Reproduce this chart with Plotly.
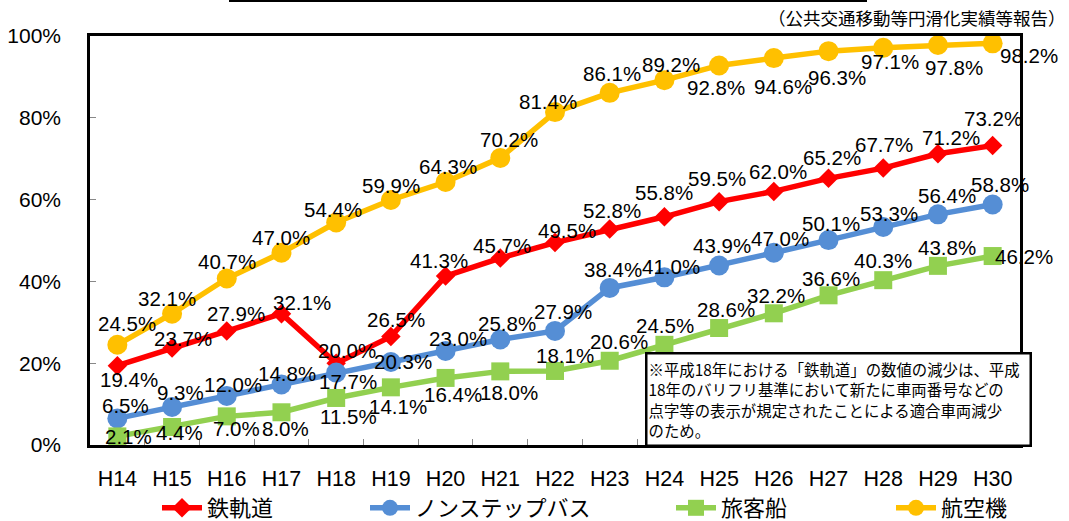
import plotly.graph_objects as go

# 年度（平成）
years = ["H14", "H15", "H16", "H17", "H18", "H19", "H20", "H21", "H22",
         "H23", "H24", "H25", "H26", "H27", "H28", "H29", "H30"]

# 移動等円滑化の達成割合（%）
rail = [19.4, 23.7, 27.9, 32.1, 20.0, 26.5, 41.3, 45.7, 49.5, 52.8, 55.8,
        59.5, 62.0, 65.2, 67.7, 71.2, 73.2]
bus = [6.5, 9.3, 12.0, 14.8, 17.7, 20.3, 23.0, 25.8, 27.9, 38.4, 41.0,
       43.9, 47.0, 50.1, 53.3, 56.4, 58.8]
ship = [2.1, 4.4, 7.0, 8.0, 11.5, 14.1, 16.4, 18.0, 18.1, 20.6, 24.5,
        28.6, 32.2, 36.6, 40.3, 43.8, 46.2]
air = [24.5, 32.1, 40.7, 47.0, 54.4, 59.9, 64.3, 70.2, 81.4, 86.1, 89.2,
       92.8, 94.6, 96.3, 97.1, 97.8, 98.2]

series_names = ["鉄軌道", "ノンステップバス", "旅客船", "航空機"]

note_lines = [
    "※平成18年における「鉄軌道」の数値の減少は、平成",
    "18年のバリフリ基準において新たに車両番号などの",
    "点字等の表示が規定されたことによる適合車両減少",
    "のため。",
]
source_text = "（公共交通移動等円滑化実績等報告）"

# データラベルの位置調整（ピクセル単位: 右, 下）
rail_off = [(12, 14), (11, -10), (9, -17), (21, -11), (11, -13), (5, -17),
            (-7, -16), (2, -13), (12, -12), (2, -19), (0, -24), (-2, -23),
            (4, -20), (3, -21), (1, -24), (13, -16), (0, -27)]
bus_off = [(8, -13), (8, -14), (6, -11), (6, -11), (12, 9), (12, 0),
           (12, -12), (7, -16), (8, -19), (3, -18), (7, -11), (3, -20),
           (6, -14), (2, -17), (6, -14), (9, -19), (7, -20)]
ship_off = [(11, 0), (7, 5), (10, 12), (4, 16), (12, 19), (7, 19),
            (7, 17), (9, 21), (10, -15), (9, -19), (1, -19), (7, -19),
            (2, -18), (2, -17), (0, -20), (9, -18), (31, 0)]
air_off = [(10, -21), (-5, -15), (0, -17), (0, -15), (-3, -13), (0, -15),
           (2, -16), (9, -18), (-7, -11), (2, -19), (7, -16), (-3, 22),
           (9, 28), (8, 26), (7, 14), (16, 22), (36, 12)]

RED = "#FF0000"
BLUE = "#558ED5"
GREEN = "#92D050"
YELLOW = "#FFC000"

NUM_FONT = "Liberation Sans, Arial, sans-serif"
JP_FONT = "Noto Sans CJK JP"

# プロット領域（ピクセル）
PL, PR, PT, PB = 90, 1020, 36, 445
PW, PH = PR - PL, PB - PT


def px_x(x):
    return (x - PL) / PW


def px_y(y):
    return (PB - y) / PH


fig = go.Figure()

styles = [
    (rail, RED, "diamond", 15, "legend"),
    (bus, BLUE, "circle", 20, "legend2"),
    (ship, GREEN, "square", 18, "legend3"),
    (air, YELLOW, "circle", 20, "legend4"),
]
for name, (vals, color, sym, size, leg) in zip(series_names, styles):
    fig.add_trace(go.Scatter(
        x=years, y=vals, name=name, mode="lines+markers",
        line=dict(color=color, width=5.5),
        marker=dict(symbol=sym, size=size, color=color),
        legend=leg, cliponaxis=False,
    ))

annotations = []
for vals, offs in [(air, air_off), (rail, rail_off), (bus, bus_off), (ship, ship_off)]:
    for yr, v, (dx, dy) in zip(years, vals, offs):
        annotations.append(dict(
            x=yr, y=v, xref="x", yref="y", text=f"{v:.1f}%",
            showarrow=False, xshift=dx, yshift=-dy,
            font=dict(family=NUM_FONT, size=20.5, color="black"),
        ))

# 注記ボックス
annotations.append(dict(
    x=px_x(645), y=px_y(447), xref="paper", yref="paper",
    xanchor="left", yanchor="bottom", text="<br>".join(note_lines),
    showarrow=False, align="left", width=380, height=88,
    bgcolor="white", bordercolor="black", borderwidth=2.5, borderpad=1,
    font=dict(family=JP_FONT, size=15.4, color="black"),
))
# 出典
annotations.append(dict(
    x=px_x(1068), y=px_y(18), xref="paper", yref="paper",
    xanchor="right", yanchor="middle", text=source_text, showarrow=False,
    font=dict(family=JP_FONT, size=17.5, color="black"),
))

legend_base = dict(orientation="h", xanchor="left", yanchor="middle",
                   y=px_y(508), bgcolor="rgba(0,0,0,0)",
                   font=dict(family=JP_FONT, size=22, color="black"),
                   itemwidth=40)
legend_x = [157, 365, 671, 891]

fig.update_layout(
    width=1069, height=521,
    margin=dict(l=PL, r=1069 - PR, t=PT, b=521 - PB, autoexpand=False),
    plot_bgcolor="white", paper_bgcolor="white",
    showlegend=True,
    legend=dict(legend_base, x=px_x(legend_x[0])),
    legend2=dict(legend_base, x=px_x(legend_x[1])),
    legend3=dict(legend_base, x=px_x(legend_x[2])),
    legend4=dict(legend_base, x=px_x(legend_x[3])),
    annotations=annotations,
    shapes=[dict(type="line", xref="paper", yref="paper",
                 x0=px_x(229), x1=px_x(867), y0=px_y(1), y1=px_y(1),
                 line=dict(color="black", width=2))],
    xaxis=dict(type="category", categoryorder="array", categoryarray=years,
               range=[-0.5, 16.5], tickson="boundaries", ticks="inside",
               ticklen=6, tickcolor="#888888", showline=True, mirror=True,
               linecolor="black", linewidth=2.5, showgrid=False,
               tickangle=0, ticklabelstandoff=12,
               tickfont=dict(family=NUM_FONT, size=21.5, color="black")),
    yaxis=dict(range=[0, 100], dtick=20, ticksuffix="%", ticks="inside",
               ticklen=6, tickcolor="#888888", showline=True, mirror=True,
               linecolor="black", linewidth=2.5, showgrid=False,
               zeroline=False, ticklabelstandoff=22,
               tickfont=dict(family=NUM_FONT, size=21, color="black")),
)

fig.write_html("out.html")
